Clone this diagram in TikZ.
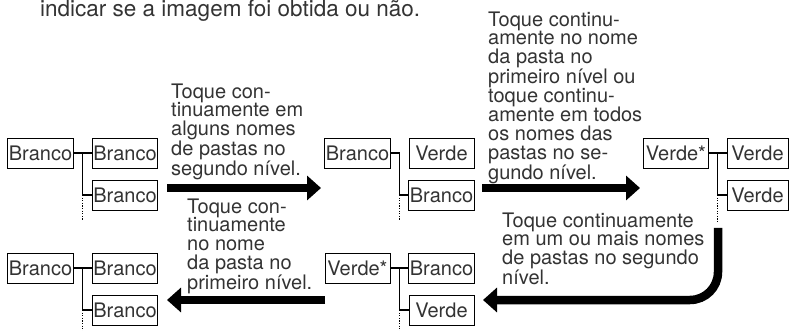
\documentclass[tikz,border=0pt]{standalone}
\usepackage{fontspec}
\setmainfont{TeX Gyre Heros}
\usetikzlibrary{arrows.meta,calc}
\tikzset{box/.style={draw, line width=0.9pt, minimum width=65pt,
  minimum height=30pt, inner sep=1pt},
  txt/.style={align=left, anchor=north west, inner sep=0pt}}

\begin{document}
\begin{tikzpicture}[x=1pt, y=-1pt, every node/.style={text=black!80,
  font=\fontsize{20pt}{18.6pt}\selectfont}, >={Triangle[length=14pt, width=24pt]},
  link/.style={line width=1.3pt}, dotline/.style={line width=1pt,
  dash pattern=on 1.2pt off 1.4pt}, fat/.style={->, line width=8.5pt}]
  \useasboundingbox (0,0) rectangle (790,331);
  % first row of folder trees
  \node[box] (a1) at (40.5,153) {Branco};
  \node[box] (a2) at (125,153)  {Branco};
  \node[box] (a3) at (125,195)  {Branco};
  \node[box] (b1) at (357.5,153) {Branco};
  \node[box] (b2) at (441.5,153) {Verde};
  \node[box] (b3) at (441.5,195) {Branco};
  \node[box] (c1) at (676,153) {Verde*};
  \node[box, minimum width=61pt] (c2) at (757.5,153) {Verde};
  \node[box, minimum width=61pt] (c3) at (757.5,195) {Verde};
  % second row of folder trees
  \node[box] (d1) at (40.5,268) {Branco};
  \node[box] (d2) at (125,268)  {Branco};
  \node[box] (d3) at (125,310)  {Branco};
  \node[box] (e1) at (357.5,268) {Verde*};
  \node[box] (e2) at (441.5,268) {Branco};
  \node[box] (e3) at (441.5,310) {Verde};
  % tree branches
  \coordinate (aj) at ($(a1.east)!.5!(a2.west)$);
  \coordinate (bj) at ($(b1.east)!.5!(b2.west)$);
  \coordinate (cj) at ($(c1.east)!.5!(c2.west)$);
  \coordinate (dj) at ($(d1.east)!.5!(d2.west)$);
  \coordinate (ej) at ($(e1.east)!.5!(e2.west)$);
  \draw[link] (a1) -- (a2);
  \draw[link] (aj) |- (a3);
  \draw[link] (b1.east) -- (bj) |- (b3);
  \draw[link] (c1) -- (c2);
  \draw[link] (cj) |- (c3);
  \draw[link] (d1) -- (d2);
  \draw[link] (dj) |- (d3);
  \draw[link] (e1) -- (e2);
  \draw[link] (ej) |- (e3);
  \draw[dotline] (aj |- a3) -- ++(0,25);
  \draw[dotline] (bj |- b3) -- ++(0,25);
  \draw[dotline] (cj |- c3) -- ++(0,27);
  \draw[dotline] (dj |- d3) -- ++(0,22);
  \draw[dotline] (ej |- e3) -- ++(0,22);
  % arrows between the states
  \coordinate (p1) at (167,188);
  \coordinate (q1) at (321,188);
  \coordinate (p2) at (482,188);
  \coordinate (q2) at (640,188);
  \coordinate (p3) at (718,228);
  \coordinate (q3) at (483,300);
  \coordinate (p4) at (325,300);
  \coordinate (q4) at (167,300);
  \draw[fat] (p1) -- (q1);
  \draw[fat] (p2) -- (q2);
  \draw[fat, rounded corners=28pt] (p3) |- (q3);
  \draw[fat] (p4) -- (q4);
  % texts
  \node[txt, anchor=base west, font=\fontsize{22.5pt}{23pt}\selectfont] (t0)
    at (40,16.5) {indicar se a imagem foi obtida ou não.};
  \node[txt] (t1) at (171,83.5)
    {Toque con-\\tinuamente em\\alguns nomes\\de pastas no\\segundo nível.};
  \node[txt] (t2) at (488,11.5)
    {Toque continu-\\amente no nome\\da pasta no\\primeiro nível ou\\toque continu-\\amente em todos\\os nomes das\\pastas no se-\\gundo nível.};
  \node[txt] (t3) at (502,212.5)
    {Toque continuamente\\em um ou mais nomes\\de pastas no segundo\\nível.};
  \node[txt] (t4) at (187,198.5)
    {Toque con-\\tinuamente\\no nome\\da pasta no\\primeiro nível.};
\end{tikzpicture}
\end{document}
